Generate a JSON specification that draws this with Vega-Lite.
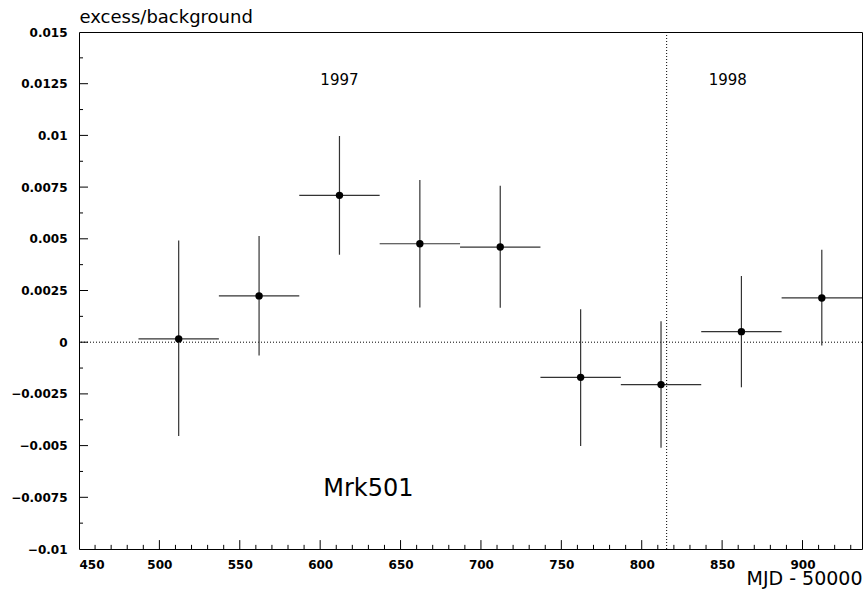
{
  "$schema": "https://vega.github.io/schema/vega-lite/v6.json",
  "autosize": "none",
  "width": 783,
  "height": 517,
  "padding": {"left": 79, "top": 32, "right": 2, "bottom": 40},
  "background": "white",
  "config": {
    "view": {"stroke": "black", "strokeWidth": 1},
    "axis": {
      "grid": false,
      "domain": false,
      "ticks": false,
      "tickSize": 0,
      "labelColor": "black",
      "titleColor": "black",
      "labelFont": "DejaVu Sans",
      "labelFontWeight": "bold",
      "labelFontSize": 12,
      "titleFont": "DejaVu Sans",
      "titleFontWeight": "normal"
    }
  },
  "datasets": {
    "points": [
      {"mjd": 512, "lo_x": 487, "hi_x": 537, "ratio": 0.00016, "err_lo": -0.00454, "err_hi": 0.00492},
      {"mjd": 562, "lo_x": 537, "hi_x": 587, "ratio": 0.00224, "err_lo": -0.00064, "err_hi": 0.00514},
      {"mjd": 612, "lo_x": 587, "hi_x": 637, "ratio": 0.0071, "err_lo": 0.00423, "err_hi": 0.00997},
      {"mjd": 662, "lo_x": 637, "hi_x": 687, "ratio": 0.00476, "err_lo": 0.00168, "err_hi": 0.00784},
      {"mjd": 712, "lo_x": 687, "hi_x": 737, "ratio": 0.0046, "err_lo": 0.00166, "err_hi": 0.00756},
      {"mjd": 762, "lo_x": 737, "hi_x": 787, "ratio": -0.0017, "err_lo": -0.00502, "err_hi": 0.00159},
      {"mjd": 812, "lo_x": 787, "hi_x": 837, "ratio": -0.00205, "err_lo": -0.00511, "err_hi": 0.00101},
      {"mjd": 862, "lo_x": 837, "hi_x": 887, "ratio": 0.00051, "err_lo": -0.00218, "err_hi": 0.0032},
      {"mjd": 912, "lo_x": 887, "hi_x": 937, "ratio": 0.00214, "err_lo": -0.00016, "err_hi": 0.00447}
    ],
    "labels": [
      {"mjd": 612, "ratio": 0.0127, "text": "1997"},
      {"mjd": 853.5, "ratio": 0.0127, "text": "1998"}
    ],
    "source": [
      {"mjd": 630, "ratio": -0.0071, "text": "Mrk501"}
    ],
    "zero": [{"ratio": 0}],
    "boundary": [{"mjd": 815.5}],
    "xmajor": [{"v": 500}, {"v": 550}, {"v": 600}, {"v": 650}, {"v": 700}, {"v": 750}, {"v": 800}, {"v": 850}, {"v": 900}],
    "xminor": [{"v": 460}, {"v": 470}, {"v": 480}, {"v": 490}, {"v": 510}, {"v": 520}, {"v": 530}, {"v": 540}, {"v": 560}, {"v": 570}, {"v": 580}, {"v": 590}, {"v": 610}, {"v": 620}, {"v": 630}, {"v": 640}, {"v": 660}, {"v": 670}, {"v": 680}, {"v": 690}, {"v": 710}, {"v": 720}, {"v": 730}, {"v": 740}, {"v": 760}, {"v": 770}, {"v": 780}, {"v": 790}, {"v": 810}, {"v": 820}, {"v": 830}, {"v": 840}, {"v": 860}, {"v": 870}, {"v": 880}, {"v": 890}, {"v": 910}, {"v": 920}, {"v": 930}],
    "ymajor": [{"v": -0.0075}, {"v": -0.005}, {"v": -0.0025}, {"v": 0}, {"v": 0.0025}, {"v": 0.005}, {"v": 0.0075}, {"v": 0.01}, {"v": 0.0125}],
    "yminor": [{"v": -0.00875}, {"v": -0.00625}, {"v": -0.00375}, {"v": -0.00125}, {"v": 0.00125}, {"v": 0.00375}, {"v": 0.00625}, {"v": 0.00875}, {"v": 0.01125}, {"v": 0.01375}]
  },
  "layer": [
    {
      "data": {"name": "zero"},
      "mark": {"type": "rule", "color": "black", "strokeWidth": 1, "strokeDash": [1, 2]},
      "encoding": {
        "y": {"field": "ratio", "type": "quantitative", "scale": {"domain": [-0.01, 0.015], "nice": false, "zero": false},
          "axis": {
            "values": [-0.01, -0.0075, -0.005, -0.0025, 0, 0.0025, 0.005, 0.0075, 0.01, 0.0125, 0.015],
            "format": ".3~g",
            "labelPadding": 12,
            "title": "excess/background",
            "titleAngle": 0,
            "titleX": 0,
            "titleY": -10,
            "titleAlign": "left",
            "titleBaseline": "alphabetic",
            "titleFontSize": 18
          }
        }
      }
    },
    {
      "data": {"name": "boundary"},
      "mark": {"type": "rule", "color": "black", "strokeWidth": 1, "strokeDash": [1, 2]},
      "encoding": {
        "x": {"field": "mjd", "type": "quantitative", "scale": {"domain": [450, 937], "nice": false, "zero": false},
          "axis": {
            "values": [450, 500, 550, 600, 650, 700, 750, 800, 850, 900],
            "labelPadding": 10,
            "title": "MJD - 50000",
            "titleX": 783,
            "titleY": 35,
            "titleAlign": "right",
            "titleBaseline": "alphabetic",
            "titleFontSize": 19
          }
        }
      }
    },
    {
      "data": {"name": "xmajor"},
      "mark": {"type": "rule", "color": "black", "strokeWidth": 1},
      "encoding": {
        "x": {"field": "v", "type": "quantitative"},
        "y": {"datum": -0.01, "type": "quantitative"},
        "y2": {"datum": -0.00957}
      }
    },
    {
      "data": {"name": "xminor"},
      "mark": {"type": "rule", "color": "black", "strokeWidth": 1},
      "encoding": {
        "x": {"field": "v", "type": "quantitative"},
        "y": {"datum": -0.01, "type": "quantitative"},
        "y2": {"datum": -0.0098}
      }
    },
    {
      "data": {"name": "ymajor"},
      "mark": {"type": "rule", "color": "black", "strokeWidth": 1},
      "encoding": {
        "y": {"field": "v", "type": "quantitative"},
        "x": {"datum": 450, "type": "quantitative"},
        "x2": {"datum": 455.6}
      }
    },
    {
      "data": {"name": "yminor"},
      "mark": {"type": "rule", "color": "black", "strokeWidth": 1},
      "encoding": {
        "y": {"field": "v", "type": "quantitative"},
        "x": {"datum": 450, "type": "quantitative"},
        "x2": {"datum": 452.5}
      }
    },
    {
      "data": {"name": "points"},
      "mark": {"type": "rule", "color": "#333333", "strokeWidth": 1.2},
      "encoding": {
        "x": {"field": "mjd", "type": "quantitative"},
        "y": {"field": "err_lo", "type": "quantitative"},
        "y2": {"field": "err_hi"}
      }
    },
    {
      "data": {"name": "points"},
      "mark": {"type": "rule", "color": "#333333", "strokeWidth": 1.2},
      "encoding": {
        "x": {"field": "lo_x", "type": "quantitative"},
        "x2": {"field": "hi_x"},
        "y": {"field": "ratio", "type": "quantitative"}
      }
    },
    {
      "data": {"name": "points"},
      "mark": {"type": "point", "filled": true, "color": "black", "opacity": 1, "size": 55},
      "encoding": {
        "x": {"field": "mjd", "type": "quantitative"},
        "y": {"field": "ratio", "type": "quantitative"}
      }
    },
    {
      "data": {"name": "labels"},
      "mark": {"type": "text", "font": "DejaVu Sans", "fontSize": 15, "color": "black", "baseline": "middle", "align": "center"},
      "encoding": {
        "x": {"field": "mjd", "type": "quantitative"},
        "y": {"field": "ratio", "type": "quantitative"},
        "text": {"field": "text"}
      }
    },
    {
      "data": {"name": "source"},
      "mark": {"type": "text", "font": "DejaVu Sans", "fontSize": 24, "color": "black", "baseline": "middle", "align": "center"},
      "encoding": {
        "x": {"field": "mjd", "type": "quantitative"},
        "y": {"field": "ratio", "type": "quantitative"},
        "text": {"field": "text"}
      }
    }
  ]
}
